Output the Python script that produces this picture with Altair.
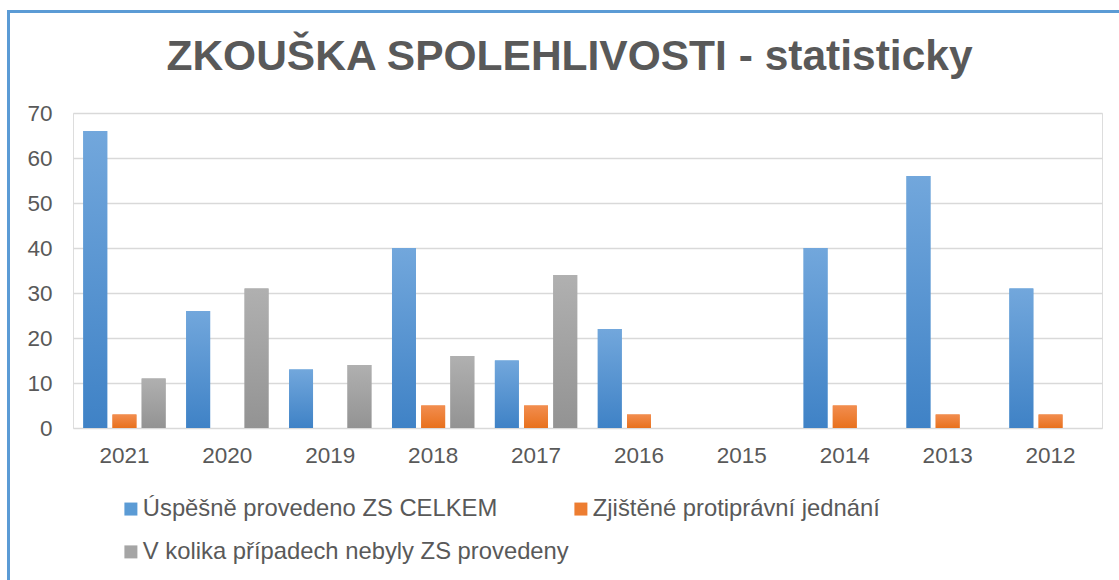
import altair as alt
import pandas as pd

years = ["2021", "2020", "2019", "2018", "2017", "2016", "2015", "2014", "2013", "2012"]
series_names = [
    "Úspěšně provedeno ZS CELKEM",
    "Zjištěné protiprávní jednání",
    "V kolika případech nebyly ZS provedeny",
]
uspesne = [66, 26, 13, 40, 15, 22, 0, 40, 56, 31]
zjistene = [3, 0, 0, 5, 5, 3, 0, 5, 3, 3]
neprovedeny = [11, 31, 14, 16, 34, 0, 0, 0, 0, 0]
y_ticks = [0, 10, 20, 30, 40, 50, 60, 70]

solid = {"Úspěšně provedeno ZS CELKEM": "#5B9BD5",
         "Zjištěné protiprávní jednání": "#ED7D31",
         "V kolika případech nebyly ZS provedeny": "#A5A5A5"}
grads = [
    ("#72a7dc", "#3f82c6"),
    ("#f28d4f", "#e8711d"),
    ("#b0b0b0", "#939393"),
]
# legend order (column-major grid of 2 rows)
legend_order = [series_names[0], series_names[2], series_names[1]]

rows = []
for s, vals in zip(series_names, [uspesne, zjistene, neprovedeny]):
    for yv, v in zip(years, vals):
        rows.append({"year": yv, "series": s, "value": v})
df = pd.DataFrame(rows)

FONT = "Liberation Sans"
TXT = "#595959"

x_enc = alt.X(
    "year:N",
    sort=years,
    scale=alt.Scale(paddingInner=0.2, paddingOuter=0.1),
    axis=alt.Axis(
        title=None, labelAngle=0, labelFontSize=22.5, labelColor=TXT, labelFont=FONT,
        ticks=False, domain=False, labelPadding=16, grid=False,
    ),
)
xo_enc = alt.XOffset(
    "series:N", sort=series_names,
    scale=alt.Scale(domain=series_names, paddingInner=0.18),
)
y_enc = alt.Y(
    "value:Q",
    scale=alt.Scale(domain=[0, 70]),
    axis=alt.Axis(
        title=None, values=y_ticks, labelFontSize=22.5, labelColor=TXT, labelFont=FONT,
        ticks=False, domain=False, labelPadding=21, gridColor="#d9d9d9", gridWidth=1.5,
    ),
)

base = alt.Chart(df)

legend_layer = base.mark_bar().encode(
    x=x_enc, xOffset=xo_enc, y=y_enc,
    color=alt.Color(
        "series:N",
        scale=alt.Scale(domain=legend_order, range=[solid[s] for s in legend_order]),
        sort=legend_order,
        legend=alt.Legend(
            title=None, orient="none", legendX=46, legendY=384, columns=2,
            symbolType="square", symbolSize=169, symbolStrokeWidth=0,
            labelFontSize=23.8, labelColor=TXT, labelFont=FONT, labelOffset=0,
            columnPadding=0, rowPadding=18, labelLimit=700,
        ),
    ),
)

layers = [legend_layer]
for name, (top, bot) in zip(series_names, grads):
    g = {
        "gradient": "linear", "x1": 0, "x2": 0, "y1": 0, "y2": 1,
        "stops": [{"offset": 0, "color": top}, {"offset": 1, "color": bot}],
    }
    layers.append(
        base.transform_filter(alt.datum.series == name)
        .mark_bar(color=g)
        .encode(x=x_enc, xOffset=xo_enc, y=y_enc)
    )

frame_left = alt.Chart(pd.DataFrame({"a": [0]})).mark_rule(color="#5B9BD5", strokeWidth=3).encode(
    x=alt.value(-64.5), y=alt.value(-101.5), y2=alt.value(480)
)
frame_top = alt.Chart(pd.DataFrame({"a": [0]})).mark_rule(color="#5B9BD5", strokeWidth=3).encode(
    x=alt.value(-66), x2=alt.value(1060), y=alt.value(-101.5)
)

chart = alt.layer(*layers, frame_left, frame_top).properties(
    width=1029,
    height=315,
    autosize=alt.AutoSizeParams(type="none"),
    padding={"left": 73, "top": 113, "right": 17, "bottom": 152},
    title=alt.TitleParams(
        "ZKOUŠKA SPOLEHLIVOSTI - statisticky",
        fontSize=42.5, font=FONT, fontWeight="bold", color=TXT,
        anchor="middle", dx=-18, offset=-102, baseline="alphabetic",
    ),
).configure_view(stroke=None).configure(background="white")

chart.save("out.html", embed_options={"renderer": "svg", "actions": False})
